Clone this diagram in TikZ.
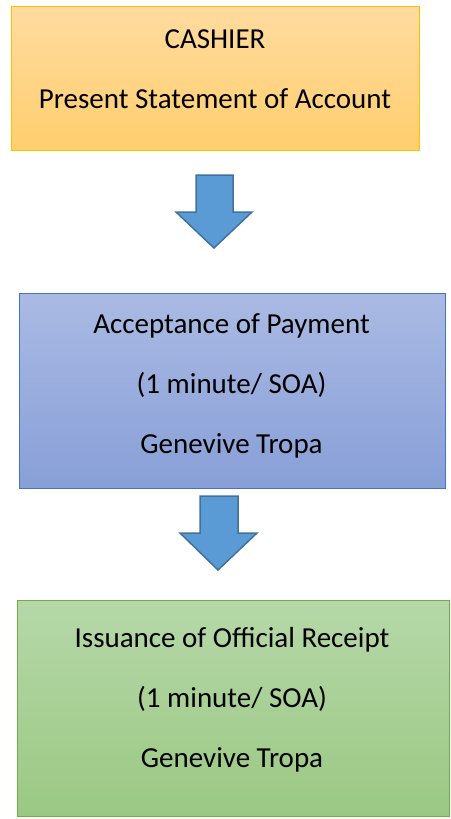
\documentclass[tikz,border=0pt]{standalone}
\usepackage{fontspec}
\setmainfont{Carlito}
\usepackage{tikz}
\usetikzlibrary{calc}

\definecolor{orangetop}{HTML}{FFDB9F}
\definecolor{orangebot}{HTML}{FFCE6E}
\definecolor{orangeline}{HTML}{FFC000}
\definecolor{bluetop}{HTML}{AABAE3}
\definecolor{bluebot}{HTML}{889FD7}
\definecolor{blueline}{HTML}{4472C4}
\definecolor{greentop}{HTML}{B6D8A9}
\definecolor{greenbot}{HTML}{9BC883}
\definecolor{greenline}{HTML}{70AD47}
\definecolor{arrowfill}{HTML}{5B9BD5}
\definecolor{arrowline}{HTML}{41719C}

\tikzset{
  stepbox/.style={rectangle, line width=1pt, inner sep=0pt},
  steptext/.style={align=center, font=\fontsize{29}{60}\selectfont, inner sep=0pt},
  blockarrow/.style={fill=arrowfill, draw=arrowline, line width=1.5pt,
    line join=miter}
}

\begin{document}
\begin{tikzpicture}[x=1pt,y=-1pt]
    \useasboundingbox (0,0) rectangle (450,819);
    %
    \node[stepbox, draw=orangeline, top color=orangetop, bottom color=orangebot,
      minimum width=408, minimum height=144] (cashier) at (215,78) {};
    \node[stepbox, draw=blueline, top color=bluetop, bottom color=bluebot,
      minimum width=426, minimum height=195] (accept) at (232.5,390.5) {};
    \node[stepbox, draw=greenline, top color=greentop, bottom color=greenbot,
      minimum width=432, minimum height=216] (receipt) at (233,708) {};
    %
    \node[steptext] (cashiertext) at ($(cashier.center)+(0,-9)$)
      {CASHIER\\Present Statement of Account};
    \node[steptext] (accepttext) at ($(accept.center)+(-1,-5)$)
      {Acceptance of Payment\\(1 minute/ SOA)\\Genevive Tropa};
    \node[steptext] (receipttext) at ($(receipt.center)+(-1,-8)$)
      {Issuance of Official Receipt\\(1 minute/ SOA)\\Genevive Tropa};
    %
    \draw[blockarrow] (196,175) -- (233,175) -- (233,212) -- (252,212)
      -- (214,248) -- (176,212) -- (196,212) -- cycle;
    \draw[blockarrow] (200,496) -- (238,496) -- (238,533) -- (257,533)
      -- (218,570) -- (180,533) -- (200,533) -- cycle;
\end{tikzpicture}
\end{document}
